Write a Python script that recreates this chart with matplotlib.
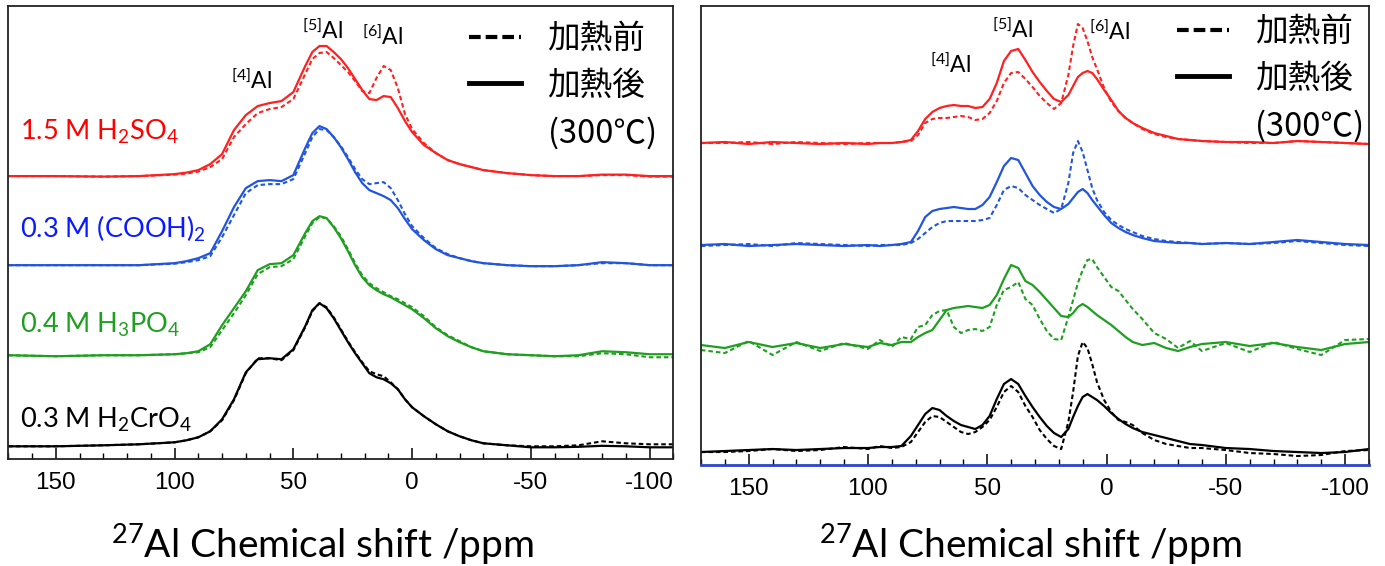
import matplotlib
matplotlib.use("Agg")
import matplotlib.pyplot as plt
from matplotlib.lines import Line2D
from matplotlib.ticker import MultipleLocator

plt.rcParams['font.family'] = ['Liberation Sans', 'DejaVu Sans']
plt.rcParams['axes.unicode_minus'] = False
plt.rcParams['mathtext.fontset'] = 'custom'
plt.rcParams['mathtext.rm'] = 'Lato'
plt.rcParams['mathtext.it'] = 'Lato:italic'
plt.rcParams['mathtext.bf'] = 'Lato:bold'

# ---- left panel: 27Al NMR before / after heating ----
ppm_left = [170, 150, 130, 115, 100, 95, 90, 85, 80, 75,
            70, 65, 60, 55, 50, 45, 42, 39, 36, 33,
            30, 27, 24, 21, 18, 15, 12, 9, 6, 3,
            0, -5, -10, -15, -20, -25, -30, -40, -50, -60,
            -70, -80, -90, -100, -110]

h2so4_before = [0, 0, -0.5, 0, 1.5, 2.5, 4.5, 9, 17, 39,
                52, 63, 67, 69, 77, 102, 117, 123, 124, 118,
                111, 104, 95, 85, 83, 98, 110, 106, 88, 62,
                47, 33, 23, 16, 12, 9, 6, 3, 1, 0,
                0, 1, 1, -0.5, -0.5]
h2so4_after = [0, 0, -0.5, 0, 2, 3.5, 6, 12, 22, 46,
               61, 70, 73, 75, 84, 110, 124, 130, 130, 124,
               117, 108, 97, 86, 77, 76, 80, 79, 68, 55,
               44, 31, 23, 16, 12, 9, 6, 3, 1, 0,
               0, 1.5, 1.5, 0, 0]
cooh_before = [0, 0, 0, 0, 1.5, 3, 5, 9, 28, 50,
               72, 80, 81, 81, 86, 112, 128, 136, 135, 128,
               119, 108, 96, 86, 81, 82, 83, 77, 65, 51,
               39, 27, 17, 11, 7, 4, 2, 0, -1, -1,
               0, 2, 2, 0, 0]
cooh_after = [0, 0, 0, 0, 2, 4, 7, 12, 34, 58,
              77, 84, 85, 84, 90, 117, 132, 139, 136, 128,
              118, 106, 93, 82, 75, 72, 69, 65, 57, 46,
              36, 25, 16, 10, 7, 4, 2, 0, -1, -1,
              0, 3, 2, 0, 0]
h3po4_before = [0, -1, 0, 0, 1, 2, 3, 8, 25, 42,
                60, 81, 88, 89, 96, 119, 132, 138, 137, 129,
                119, 106, 92, 80, 72, 67, 63, 59, 56, 52,
                48, 39, 28, 20, 14, 8, 4, 1, 0, -1,
                -1, 2, 1, -2, -2]
h3po4_after = [0, -1, 0, 0, 1, 2, 4, 11, 30, 47,
               64, 85, 91, 92, 100, 122, 134, 139, 137, 128,
               117, 104, 90, 78, 70, 65, 61, 58, 54, 50,
               46, 37, 27, 19, 13, 8, 4, 1, 0, -1,
               0, 4, 3, 1, 1]
h2cro4_before = [0, 0, 1, 2, 4, 6, 9, 15, 26, 46,
                 73, 88, 88, 86, 96, 119, 135, 143, 139, 129,
                 117, 105, 94, 84, 75, 72, 70, 64, 57, 47,
                 39, 30, 22, 15, 10, 6, 3, 1, 0, 0,
                 1, 5, 3, 2, 2]
h2cro4_after = [0, 0, 1, 2, 4, 6, 9, 15, 27, 47,
                74, 87, 88, 87, 97, 120, 136, 143, 138, 128,
                116, 104, 93, 83, 73, 69, 67, 63, 57, 47,
                39, 30, 22, 15, 10, 6, 3, 1, -1, -1,
                -0.5, 0.5, 0, -1, -1]

left_labels = ['1.5 M H$_2$SO$_4$', '0.3 M (COOH)$_2$',
               '0.4 M H$_3$PO$_4$', '0.3 M H$_2$CrO$_4$']
left_offsets = [283, 194, 104, 13]

# ---- right panel ----
ppm_right = [170, 160, 150, 140, 130, 120, 110, 100, 95, 90,
             86, 82, 79, 76, 73, 70, 67, 64, 61, 58,
             55, 52, 49, 46, 43, 40, 37, 34, 31, 28,
             25, 22, 19, 16, 14, 12, 10, 8, 6, 4,
             1, -2, -5, -8, -11, -15, -20, -25, -30, -35,
             -40, -50, -60, -70, -80, -90, -100, -110]

r_h2so4_before = [0, 0, 1, -1, 1, 0, -1, 0, 0, 0,
                  1, 2, 8, 20, 24, 25, 25, 26, 27, 26,
                  23, 24, 30, 42, 60, 70, 71, 64, 56, 47,
                  40, 34, 40, 68, 97, 119, 115, 102, 86, 74,
                  55, 41, 32, 25, 20, 14, 9, 6, 4, 3,
                  2, 1, 0, 0, 2, 1, 0, -1]
r_h2so4_after = [0, 1, -1, 1, 0, -1, 0, -1, 0, 0,
                 1, 3, 12, 24, 31, 35, 37, 38, 37, 37,
                 35, 36, 44, 60, 82, 92, 94, 83, 71, 61,
                 52, 44, 41, 48, 57, 66, 70, 72, 70, 64,
                 53, 43, 32, 25, 20, 15, 10, 7, 4, 3,
                 2, 1, 1, 0, 2, 1, 0, -1]
r_cooh_before = [-1, 0, 1, -1, 2, 1, 0, -1, 0, 0,
                 0, 2, 6, 12, 18, 22, 24, 24, 24, 24,
                 24, 25, 27, 40, 55, 59, 57, 50, 45, 40,
                 36, 32, 36, 62, 92, 104, 93, 75, 57, 45,
                 33, 25, 20, 16, 13, 9, 6, 4, 3, 2,
                 1, 2, 1, 2, 4, 2, 0, -1]
r_cooh_after = [0, 1, -1, 0, 1, 0, -1, 0, -1, 0,
                1, 3, 14, 28, 34, 36, 37, 38, 37, 36,
                36, 40, 48, 63, 79, 87, 85, 72, 59, 50,
                43, 38, 36, 41, 47, 53, 56, 52, 45, 39,
                30, 22, 17, 13, 10, 7, 4, 3, 2, 2,
                1, 2, 1, 3, 5, 3, 1, 0]
r_h3po4_before = [-5, -8, 4, -10, 3, -6, 2, -4, 5, -2,
                  8, 6, 18, 20, 30, 34, 35, 18, 12, 15,
                  16, 14, 18, 40, 55, 58, 63, 46, 40, 26,
                  14, 6, 5, 28, 45, 62, 75, 85, 86, 78,
                  68, 58, 54, 45, 36, 26, 12, 6, -3, 4,
                  -6, 2, -7, 3, -4, -10, 5, 6]
r_h3po4_after = [0, -3, 3, -2, 2, -3, 1, -2, 2, 0,
                 3, 3, 8, 12, 15, 25, 35, 37, 38, 39,
                 38, 37, 40, 50, 66, 80, 77, 64, 60, 53,
                 45, 37, 29, 28, 32, 38, 41, 38, 34, 30,
                 25, 20, 14, 8, 3, 0, 2, -3, -6, -2,
                 1, 3, -1, 2, -2, -5, 1, 3]
r_h2cro4_before = [0, 0, 1, 3, 1, 2, 5, 3, 6, 4,
                   5, 10, 20, 30, 36, 35, 30, 25, 20, 18,
                   20, 25, 32, 45, 60, 66, 60, 46, 35, 22,
                   13, 6, 3, 30, 60, 96, 110, 104, 88, 70,
                   52, 40, 32, 30, 27, 19, 12, 8, 6, 4,
                   4, 2, -1, -2, -4, -3, 1, 2]
r_h2cro4_after = [0, 1, 2, 3, 2, 3, 4, 4, 5, 5,
                  6, 16, 27, 38, 44, 42, 36, 31, 27, 25,
                  23, 27, 36, 53, 68, 73, 68, 56, 45, 35,
                  26, 19, 15, 23, 35, 46, 55, 58, 55, 52,
                  46, 39, 33, 28, 24, 20, 17, 14, 11, 8,
                  7, 4, 3, 1, 0, -1, 0, 3]
right_offsets = [322, 220, 120, 13]

colors = ['#ff2020', '#2255dd', '#1f9f1f', '#000000']
label_colors = ['#ff0000', '#0a1aff', '#1f9f1f', '#000000']
peak_labels = ['$^{[4]}$Al', '$^{[5]}$Al', '$^{[6]}$Al']

dash = (0, (2.2, 1.4))

fig = plt.figure(figsize=(13.85, 5.66), dpi=100)
ax1 = fig.add_axes([0.006, 0.1885, 0.4802, 0.8009])
ax2 = fig.add_axes([0.5061, 0.1784, 0.4823, 0.8110])

left_sets = [(h2so4_before, h2so4_after), (cooh_before, cooh_after),
             (h3po4_before, h3po4_after), (h2cro4_before, h2cro4_after)]
right_sets = [(r_h2so4_before, r_h2so4_after), (r_cooh_before, r_cooh_after),
              (r_h3po4_before, r_h3po4_after), (r_h2cro4_before, r_h2cro4_after)]

for (before, after), off, c in zip(left_sets, left_offsets, colors):
    ax1.plot(ppm_left, [v + off for v in before], color=c, lw=1.5, ls=dash)
    ax1.plot(ppm_left, [v + off for v in after], color=c, lw=1.6)
for (before, after), off, c in zip(right_sets, right_offsets, colors):
    ax2.plot(ppm_right, [v + off for v in before], color=c, lw=1.5, ls=dash)
    ax2.plot(ppm_right, [v + off for v in after], color=c, lw=1.6)

ax1.set_ylim(0, 453)
ax2.set_ylim(0, 459)

# sample names on the left panel
for lab, c, yb in zip(left_labels, label_colors, [0.704, 0.488, 0.278, 0.069]):
    ax1.text(0.017, yb, lab, transform=ax1.transAxes, color=c, fontsize=19.5,
             family='Lato', ha='left', va='baseline')

for ax, pos in [(ax1, [(0.365, 0.837), (0.472, 0.947), (0.563, 0.934)]),
                (ax2, [(0.374, 0.874), (0.467, 0.950), (0.612, 0.946)])]:
    for lab, (px, py) in zip(peak_labels, pos):
        ax.text(px, py, lab, transform=ax.transAxes, fontsize=16.5,
                family='Lato', ha='center', va='center')

cjk = {'family': ['Noto Sans CJK JP', 'DejaVu Sans'], 'size': 23.5}
handles = [Line2D([], [], color='k', lw=3, ls=(0, (2.8, 1.2))),
           Line2D([], [], color='k', lw=3.5),
           Line2D([], [], color='none')]
names = ['加熱前', '加熱後', '(300℃)']
for ax, anchor in [(ax1, (0.693, 0.962)), (ax2, (0.7126, 0.978))]:
    ax.legend(handles, names, loc='upper left', bbox_to_anchor=anchor,
              frameon=False, prop=cjk, handlelength=1.6, handletextpad=0.8,
              labelspacing=0.45, borderpad=0, borderaxespad=0)

for ax in (ax1, ax2):
    ax.set_xlim(170, -110)
    ax.xaxis.set_major_locator(MultipleLocator(50))
    ax.xaxis.set_minor_locator(MultipleLocator(10))
    ax.tick_params(axis='x', which='major', direction='in', length=8, width=1.1,
                   labelsize=17.5, pad=9)
    ax.tick_params(axis='x', which='minor', direction='in', length=4, width=1.0)
    ax.set_yticks([])
    for s in ax.spines.values():
        s.set_linewidth(1.3)
        s.set_color('#222222')
ax2.spines['bottom'].set_color('#2a45c8')
ax2.spines['bottom'].set_linewidth(2)

fig.text(322 / 1385, 1 - 544 / 566, '$^{27}$Al Chemical shift /ppm',
         fontsize=28, family='Lato', ha='center', va='center')
fig.text(1030 / 1385, 1 - 544 / 566, '$^{27}$Al Chemical shift /ppm',
         fontsize=28, family='Lato', ha='center', va='center')

fig.savefig('out.png', dpi=100)
